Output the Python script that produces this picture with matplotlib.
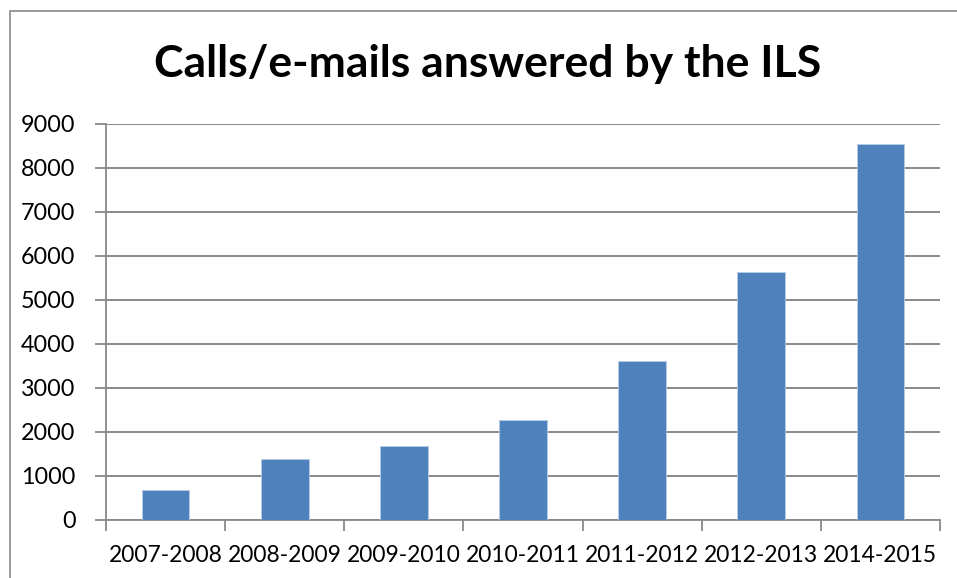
import matplotlib.pyplot as plt
import matplotlib.patches as patches
import numpy as np

plt.rcParams['font.family'] = ['Lato', 'DejaVu Sans']

# data
years = ['2007-2008', '2008-2009', '2009-2010', '2010-2011',
         '2011-2012', '2012-2013', '2014-2015']
answered = [675, 1385, 1690, 2275, 3620, 5630, 8540]

fig = plt.figure(figsize=(9.57, 5.78), dpi=100)
ax = fig.add_axes([106/957, 1 - 520/578, 834/957, 396.5/578])

x = np.arange(len(years))
ax.bar(x, answered, width=0.4, color='#4F81BD', edgecolor='#B9CDE5', linewidth=0.6, zorder=3)

ax.set_xlim(-0.5, len(years) - 0.5)
ax.set_ylim(0, 9000)
ax.set_yticks(np.arange(0, 9001, 1000))
ax.yaxis.grid(True, color='#898989', linewidth=1.4, zorder=0)

ax.set_xticks(x)
ax.set_xticklabels(years)
ax.set_xticks(np.arange(-0.5, len(years)), minor=True)
ax.tick_params(axis='x', which='major', length=0, pad=18, labelsize=16.4)
ax.tick_params(axis='x', which='minor', length=8, width=1.3, color='#898989', direction='out')
ax.tick_params(axis='y', length=8, width=1.3, color='#898989', pad=14, labelsize=16.8)

for s in ['top', 'right']:
    ax.spines[s].set_visible(False)
for s in ['left', 'bottom']:
    ax.spines[s].set_color('#898989')
    ax.spines[s].set_linewidth(1.3)

fig.text(488/957, 1 - 64/578, 'Calls/e-mails answered by the ILS',
         ha='center', va='center', fontsize=32, fontweight='bold')

# outer chart frame
frame = patches.Rectangle((10/957, -0.1), 1.2, 1.1 - 11/578, transform=fig.transFigure,
                          fill=False, edgecolor='#898989', linewidth=1.2)
fig.patches.append(frame)

fig.savefig('out.png', dpi=100)
